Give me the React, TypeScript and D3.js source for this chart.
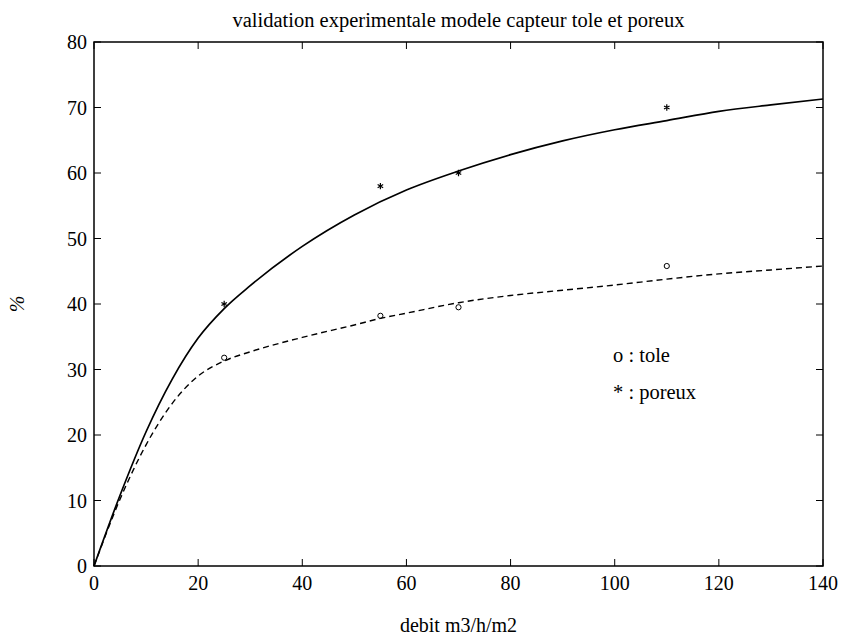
import React from "react";
import * as d3 from "d3";

const xTicks = [0, 20, 40, 60, 80, 100, 120, 140];
const yTicks = [0, 10, 20, 30, 40, 50, 60, 70, 80];

const poreuxX = [25, 55, 70, 110];
const poreuxY = [40, 58, 60, 70];
const toleX = [25, 55, 70, 110];
const toleY = [31.8, 38.2, 39.5, 45.8];

const modelPoreuxX = [0, 5, 10, 15, 20, 25, 30, 40, 50, 60, 70, 80, 90, 100, 110, 120, 130, 140];
const modelPoreuxY = [0, 10.8, 20.5, 28.5, 34.8, 39.3, 42.8, 48.8, 53.6, 57.4, 60.3, 62.8, 64.9, 66.6, 68.0, 69.4, 70.4, 71.3];
const modelToleX = [0, 5, 10, 15, 20, 25, 30, 40, 50, 55, 60, 70, 80, 90, 100, 110, 120, 130, 140];
const modelToleY = [0, 10.2, 18.5, 24.8, 29.0, 31.3, 32.7, 34.9, 36.8, 37.8, 38.6, 40.2, 41.3, 42.1, 42.9, 43.8, 44.6, 45.2, 45.8];

const legendLabels = ["o : tole", "* : poreux"];

const W = 842, H = 637;
const M = { left: 94, right: 823, top: 42, bottom: 566 };
const FONT = "'Liberation Serif', 'Times New Roman', serif";

export default function App() {
  const x = d3.scaleLinear().domain([0, 140]).range([M.left, M.right]);
  const y = d3.scaleLinear().domain([0, 80]).range([M.bottom, M.top]);
  const line = d3.line<[number, number]>().x(d => x(d[0])).y(d => y(d[1])).curve(d3.curveMonotoneX);
  const pPts = modelPoreuxX.map((v, i) => [v, modelPoreuxY[i]] as [number, number]);
  const tPts = modelToleX.map((v, i) => [v, modelToleY[i]] as [number, number]);
  const tick = 7;
  const star = d3.symbol().type(d3.symbolAsterisk).size(28)();
  return (
    <svg width={W} height={H} style={{ position: "absolute", left: 0, top: 0, background: "#fff" }} fontFamily={FONT}>
      <rect x={0} y={0} width={W} height={H} fill="#fff" />
      <text x={(M.left + M.right) / 2} y={27} textAnchor="middle" fontSize={20.5}>validation experimentale modele capteur tole et poreux</text>
      <rect x={M.left} y={M.top} width={M.right - M.left} height={M.bottom - M.top} fill="none" stroke="#000" strokeWidth={1.5} />
      {xTicks.map(t => (
        <g key={"x" + t}>
          <line x1={x(t)} x2={x(t)} y1={M.bottom} y2={M.bottom - tick} stroke="#000" strokeWidth={1} />
          <line x1={x(t)} x2={x(t)} y1={M.top} y2={M.top + tick} stroke="#000" strokeWidth={1} />
          <text x={x(t)} y={590} textAnchor="middle" fontSize={20}>{t}</text>
        </g>
      ))}
      {yTicks.map(t => (
        <g key={"y" + t}>
          <line x1={M.left} x2={M.left + tick} y1={y(t)} y2={y(t)} stroke="#000" strokeWidth={1} />
          <line x1={M.right} x2={M.right - tick} y1={y(t)} y2={y(t)} stroke="#000" strokeWidth={1} />
          <text x={M.left - 7} y={y(t)} dy="0.35em" textAnchor="end" fontSize={20}>{t}</text>
        </g>
      ))}
      <path d={line(pPts) || ""} fill="none" stroke="#000" strokeWidth={1.7} />
      <path d={line(tPts) || ""} fill="none" stroke="#000" strokeWidth={1.4} strokeDasharray="6,4" />
      {poreuxX.map((v, i) => (
        <path key={"p" + i} d={star || ""} transform={`translate(${x(v)},${y(poreuxY[i])})`} fill="none" stroke="#000" strokeWidth={1.2} />
      ))}
      {toleX.map((v, i) => (
        <circle key={"t" + i} cx={x(v)} cy={y(toleY[i])} r={2.6} fill="none" stroke="#000" strokeWidth={1} />
      ))}
      {legendLabels.map((l, i) => (
        <text key={l} x={613} y={362 + i * 37} fontSize={20.5}>{l}</text>
      ))}
      <text x={(M.left + M.right) / 2} y={632} textAnchor="middle" fontSize={20}>debit m3/h/m2</text>
      <text transform={`translate(17,${(M.top + M.bottom) / 2}) rotate(-90)`} textAnchor="middle" dy="0.35em" fontSize={20} fontStyle="italic">%</text>
    </svg>
  );
}
